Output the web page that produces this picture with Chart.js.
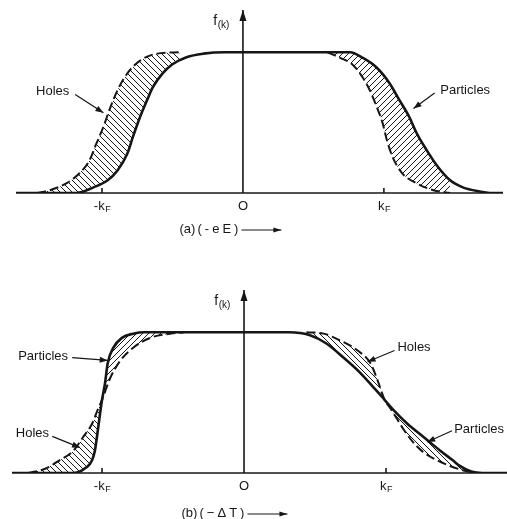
<!DOCTYPE html>
<html lang="en">
<head>
    <meta charset="UTF-8">
    <title>Fermi distribution shifts</title>
    <script src="https://cdn.jsdelivr.net/npm/chart.js"></script>
    <style>
        body { margin: 0; background: #fff; }
        .panel { position: absolute; left: 0; width: 507px; }
        #panel-a { top: 0; height: 260px; }
        #panel-b { top: 260px; height: 259px; }
    </style>
</head>
<body>
    <div class="panel" id="panel-a"><canvas id="chart-a" width="507" height="260"></canvas></div>
    <div class="panel" id="panel-b"><canvas id="chart-b" width="507" height="259"></canvas></div>
    <script>
        // k in units of kF, f between 0 and 1
        // (a) shifted by the field
        const kA_solid = [-1.61, -1.18, -1.06, -0.96, -0.89, -0.82, -0.78, -0.73, -0.68, -0.64, -0.57, -0.50, -0.40, -0.28, -0.13, 0.30, 0.60, 0.76, 0.85, 0.95, 1.04, 1.11, 1.18, 1.23, 1.30, 1.38, 1.47, 1.56, 1.68, 1.75, 1.845];
        const fA_solid = [0, 0, 0.04, 0.09, 0.16, 0.28, 0.40, 0.54, 0.66, 0.75, 0.85, 0.915, 0.965, 0.99, 1.0, 1.0, 1.0, 1.0, 0.96, 0.89, 0.78, 0.66, 0.54, 0.43, 0.31, 0.19, 0.09, 0.04, 0.01, 0, 0];
        const kA_dashL = [-1.46, -1.37, -1.25, -1.16, -1.09, -1.04, -0.99, -0.94, -0.89, -0.82, -0.73, -0.61, -0.45];
        const fA_dashL = [0, 0.02, 0.07, 0.14, 0.23, 0.35, 0.47, 0.61, 0.73, 0.85, 0.94, 0.99, 1.0];
        const kA_dashR = [0.60, 0.69, 0.78, 0.85, 0.90, 0.95, 0.99, 1.02, 1.06, 1.13, 1.23, 1.35, 1.47];
        const fA_dashR = [1.0, 0.96, 0.91, 0.82, 0.73, 0.61, 0.50, 0.38, 0.26, 0.14, 0.07, 0.02, 0];

        // (b) temperature gradient
        const kB_solid = [-1.634, -1.20, -1.11, -1.07, -1.05, -1.03, -1.00, -0.98, -0.96, -0.92, -0.86, -0.78, -0.70, 0.32, 0.46, 0.58, 0.70, 0.82, 0.91, 0.99, 1.05, 1.15, 1.26, 1.38, 1.47, 1.52, 1.60, 1.68, 1.852];
        const fB_solid = [0, 0, 0.04, 0.09, 0.16, 0.30, 0.52, 0.63, 0.78, 0.89, 0.96, 0.99, 1.0, 1.0, 0.98, 0.92, 0.82, 0.71, 0.61, 0.52, 0.45, 0.35, 0.26, 0.16, 0.09, 0.05, 0.01, 0, 0];
        const kB_dashL = [-1.52, -1.40, -1.30, -1.20, -1.13, -1.07, -1.03, -1.00, -0.94, -0.87, -0.78, -0.66, -0.52, -0.42];
        const fB_dashL = [0, 0.03, 0.09, 0.16, 0.26, 0.35, 0.45, 0.52, 0.68, 0.80, 0.89, 0.96, 0.99, 1.0];
        const kB_dashR = [0.44, 0.56, 0.68, 0.80, 0.89, 0.94, 0.99, 1.03, 1.08, 1.13, 1.19, 1.26, 1.36, 1.45, 1.54, 1.62];
        const fB_dashR = [1.0, 0.99, 0.94, 0.87, 0.78, 0.66, 0.52, 0.46, 0.38, 0.30, 0.22, 0.15, 0.09, 0.05, 0.02, 0];

        const tickValues = [-1, 0, 1];
        const tickLabels = [['-k', 'F'], ['O', ''], ['k', 'F']];

        const INK = '#161616';
        const FONT = '"Liberation Sans", Arial, sans-serif';

        function pts(ks, fs) {
            return ks.map((k, i) => ({ x: k, y: fs[i] }));
        }

        function hatch(dir) {
            const s = 6;
            const c = document.createElement('canvas');
            c.width = s; c.height = s;
            const g = c.getContext('2d');
            g.strokeStyle = INK;
            g.lineWidth = 1;
            g.beginPath();
            if (dir === 'back') {
                g.moveTo(-1, -1); g.lineTo(s + 1, s + 1);
                g.moveTo(-1, s - 1); g.lineTo(1, s + 1);
                g.moveTo(s - 1, -1); g.lineTo(s + 1, 1);
            } else {
                g.moveTo(-1, s + 1); g.lineTo(s + 1, -1);
                g.moveTo(-1, 1); g.lineTo(1, -1);
                g.moveTo(s - 1, s + 1); g.lineTo(s + 1, s - 1);
            }
            g.stroke();
            return g.createPattern(c, 'repeat');
        }
        const BACK = hatch('back');
        const FWD = hatch('fwd');

        function line(ctx, x1, y1, x2, y2) {
            ctx.beginPath(); ctx.moveTo(x1, y1); ctx.lineTo(x2, y2); ctx.stroke();
        }
        function arrow(ctx, x1, y1, x2, y2, len, half) {
            line(ctx, x1, y1, x2, y2);
            const a = Math.atan2(y2 - y1, x2 - x1);
            ctx.beginPath();
            ctx.moveTo(x2, y2);
            ctx.lineTo(x2 - len * Math.cos(a) + half * Math.sin(a), y2 - len * Math.sin(a) - half * Math.cos(a));
            ctx.lineTo(x2 - len * Math.cos(a) - half * Math.sin(a), y2 - len * Math.sin(a) + half * Math.cos(a));
            ctx.closePath();
            ctx.fill();
        }
        function subText(ctx, main, sub, cx, cy, size) {
            ctx.font = size + 'px ' + FONT;
            const w1 = ctx.measureText(main).width;
            ctx.font = (size - 4) + 'px ' + FONT;
            const w2 = ctx.measureText(sub).width;
            let x = cx - (w1 + w2) / 2;
            ctx.textAlign = 'left';
            ctx.textBaseline = 'middle';
            ctx.font = size + 'px ' + FONT;
            ctx.fillText(main, x, cy);
            ctx.font = (size - 4) + 'px ' + FONT;
            ctx.fillText(sub, x + w1 + 0.5, cy + 4);
        }

        // axes, arrows, tick marks and all the lettering
        const decor = {
            id: 'decor',
            afterDatasetsDraw(chart, args, o) {
                const { ctx, chartArea: ca, scales: { x, y } } = chart;
                const px = v => x.getPixelForValue(v);
                const py = v => y.getPixelForValue(v);
                ctx.save();
                ctx.strokeStyle = INK;
                ctx.fillStyle = INK;
                ctx.lineCap = 'butt';
                const y0 = py(0), x0 = px(0);
                ctx.lineWidth = 1.6;
                line(ctx, ca.left, y0, ca.right, y0);
                arrow(ctx, x0, y0, x0, ca.top, 11, 3.5);
                [-1, 1].forEach(k => line(ctx, px(k), y0, px(k), y0 - 5));

                tickValues.forEach((v, i) => {
                    subText(ctx, tickLabels[i][0], tickLabels[i][1], px(v), y0 + 13, 13);
                });
                subText(ctx, 'f', '(k)', px(-0.155), py(1.22), 14);

                // caption
                ctx.font = '13px ' + FONT;
                ctx.textAlign = 'left';
                ctx.textBaseline = 'middle';
                const cx = px(o.captionAt), cy = y0 + o.captionDy;
                ctx.fillText(o.tag, cx, cy);
                ctx.letterSpacing = '3px';
                ctx.fillText(o.caption, cx + 18, cy);
                const w = ctx.measureText(o.caption).width;
                ctx.letterSpacing = '0px';
                ctx.lineWidth = 1.2;
                arrow(ctx, cx + 18 + w, cy + 1, cx + 18 + w + 40, cy + 1, 8, 2.5);

                // labelled arrows
                o.notes.forEach(n => {
                    ctx.font = '13px ' + FONT;
                    ctx.textAlign = n.align;
                    ctx.fillText(n.text, px(n.tx), py(n.ty));
                    ctx.lineWidth = 1.2;
                    arrow(ctx, px(n.from[0]), py(n.from[1]), px(n.to[0]), py(n.to[1]), 8, 3);
                });
                ctx.restore();
            }
        };

        function makeChart(id, solid, dashL, dashR, xmin, xmax, pad, fills, deco) {
            const common = { pointRadius: 0, borderColor: INK, cubicInterpolationMode: 'monotone' };
            return new Chart(document.getElementById(id), {
                type: 'line',
                data: {
                    datasets: [
                        { ...common, data: solid, borderWidth: 2.6, fill: false },
                        { ...common, data: dashL, borderWidth: 2, borderDash: [9, 4],
                          fill: { target: 0, above: fills[0], below: fills[1] } },
                        { ...common, data: dashR, borderWidth: 2, borderDash: [9, 4],
                          fill: { target: 0, above: fills[2], below: fills[3] } }
                    ]
                },
                options: {
                    responsive: false,
                    animation: false,
                    layout: { padding: pad },
                    scales: {
                        x: { type: 'linear', min: xmin, max: xmax, display: false },
                        y: { min: 0, max: 1.3, display: false }
                    },
                    plugins: {
                        legend: { display: false },
                        tooltip: { enabled: false },
                        decor: deco
                    }
                },
                plugins: [decor]
            });
        }

        makeChart('chart-a', pts(kA_solid, fA_solid), pts(kA_dashL, fA_dashL), pts(kA_dashR, fA_dashR),
            -1.61, 1.845, { left: 16, right: 4, top: 10, bottom: 67 },
            [BACK, FWD, BACK, FWD],
            {
                tag: '(a)', caption: '(-eE)', captionAt: -0.45, captionDy: 36,
                notes: [
                    { text: 'Holes', align: 'center', tx: -1.35, ty: 0.72, from: [-1.19, 0.70], to: [-0.99, 0.57] },
                    { text: 'Particles', align: 'left', tx: 1.40, ty: 0.73, from: [1.36, 0.71], to: [1.21, 0.60] }
                ]
            });

        makeChart('chart-b', pts(kB_solid, fB_solid), pts(kB_dashL, fB_dashL), pts(kB_dashR, fB_dashR),
            -1.634, 1.852, { left: 12, right: 0, top: 30, bottom: 46 },
            [BACK, FWD, BACK, BACK],
            {
                tag: '(b)', caption: '(\u2212\u0394T)', captionAt: -0.44, captionDy: 40,
                notes: [
                    { text: 'Particles', align: 'center', tx: -1.415, ty: 0.83, from: [-1.21, 0.82], to: [-0.96, 0.80] },
                    { text: 'Holes', align: 'center', tx: -1.49, ty: 0.28, from: [-1.35, 0.26], to: [-1.155, 0.18] },
                    { text: 'Holes', align: 'left', tx: 1.08, ty: 0.89, from: [1.06, 0.87], to: [0.87, 0.79] },
                    { text: 'Particles', align: 'left', tx: 1.48, ty: 0.31, from: [1.465, 0.30], to: [1.29, 0.22] }
                ]
            });
    </script>
</body>
</html>
